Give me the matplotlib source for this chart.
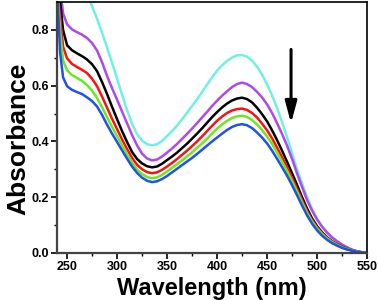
import numpy as np
import matplotlib
matplotlib.use("Agg")
import matplotlib.pyplot as plt

# wavelength grid (nm) shared by all spectra
wl = [240, 243, 246] + list(range(250, 551, 5))

# absorbance, top spectrum first
cyan = [1.6, 1.5, 1.42, 1.3, 1.2, 1.1, 1.0, 0.93, 0.885, 0.84, 0.79, 0.737, 0.682, 0.626, 0.568,
        0.512, 0.463, 0.426, 0.403, 0.39, 0.386, 0.39, 0.402, 0.419, 0.437, 0.457, 0.479, 0.503,
        0.527, 0.551, 0.577, 0.604, 0.63, 0.654, 0.673, 0.689, 0.701, 0.709, 0.71, 0.704, 0.69,
        0.668, 0.64, 0.605, 0.565, 0.52, 0.47, 0.415, 0.358, 0.3, 0.25, 0.2, 0.158, 0.123, 0.095,
        0.073, 0.055, 0.041, 0.029, 0.019, 0.011, 0.005, 0.002, 0.0]
purple = [1.0, 0.95, 0.86, 0.82, 0.802, 0.792, 0.783, 0.771, 0.753, 0.726, 0.684, 0.635, 0.591,
          0.55, 0.507, 0.465, 0.423, 0.386, 0.356, 0.339, 0.332, 0.335, 0.346, 0.36, 0.375, 0.391,
          0.409, 0.427, 0.446, 0.466, 0.486, 0.506, 0.527, 0.546, 0.564, 0.58, 0.595, 0.606, 0.611,
          0.606, 0.595, 0.578, 0.558, 0.533, 0.502, 0.466, 0.427, 0.385, 0.338, 0.285, 0.237, 0.19,
          0.152, 0.12, 0.094, 0.073, 0.056, 0.042, 0.03, 0.02, 0.012, 0.006, 0.002, 0.0]
black = [0.95, 0.9, 0.8, 0.745, 0.727, 0.716, 0.706, 0.694, 0.677, 0.652, 0.613, 0.57, 0.524,
         0.48, 0.437, 0.398, 0.362, 0.337, 0.321, 0.311, 0.307, 0.31, 0.32, 0.333, 0.346, 0.36,
         0.376, 0.392, 0.41, 0.428, 0.447, 0.467, 0.487, 0.505, 0.522, 0.536, 0.547, 0.554, 0.557,
         0.552, 0.54, 0.521, 0.498, 0.472, 0.44, 0.405, 0.367, 0.327, 0.286, 0.244, 0.2, 0.159,
         0.124, 0.096, 0.074, 0.056, 0.042, 0.031, 0.022, 0.015, 0.009, 0.005, 0.002, 0.0]
red = [0.95, 0.85, 0.74, 0.698, 0.678, 0.667, 0.657, 0.645, 0.625, 0.598, 0.561, 0.521, 0.481,
       0.444, 0.407, 0.373, 0.341, 0.316, 0.3, 0.29, 0.286, 0.289, 0.298, 0.31, 0.323, 0.337,
       0.352, 0.367, 0.383, 0.4, 0.418, 0.437, 0.456, 0.474, 0.489, 0.502, 0.511, 0.516, 0.518,
       0.513, 0.502, 0.486, 0.464, 0.44, 0.411, 0.378, 0.344, 0.308, 0.27, 0.23, 0.19, 0.151,
       0.118, 0.092, 0.071, 0.054, 0.041, 0.03, 0.021, 0.014, 0.009, 0.005, 0.002, 0.0]
green = [0.95, 0.8, 0.69, 0.655, 0.638, 0.628, 0.617, 0.602, 0.582, 0.556, 0.523, 0.487, 0.452,
         0.419, 0.386, 0.354, 0.324, 0.299, 0.283, 0.272, 0.268, 0.271, 0.28, 0.292, 0.305, 0.318,
         0.332, 0.346, 0.361, 0.377, 0.393, 0.41, 0.428, 0.446, 0.461, 0.474, 0.484, 0.49, 0.492,
         0.488, 0.477, 0.461, 0.441, 0.418, 0.391, 0.36, 0.328, 0.294, 0.258, 0.22, 0.181, 0.144,
         0.113, 0.088, 0.068, 0.052, 0.039, 0.029, 0.02, 0.014, 0.009, 0.005, 0.002, 0.0]
blue = [0.95, 0.72, 0.63, 0.598, 0.585, 0.577, 0.57, 0.558, 0.545, 0.525, 0.495, 0.46, 0.428,
        0.398, 0.368, 0.338, 0.31, 0.287, 0.27, 0.259, 0.254, 0.257, 0.265, 0.276, 0.289, 0.302,
        0.315, 0.328, 0.341, 0.355, 0.37, 0.385, 0.4, 0.414, 0.428, 0.441, 0.452, 0.459, 0.462,
        0.458, 0.448, 0.432, 0.414, 0.393, 0.367, 0.338, 0.308, 0.277, 0.243, 0.207, 0.17, 0.135,
        0.105, 0.081, 0.062, 0.047, 0.035, 0.026, 0.018, 0.012, 0.008, 0.004, 0.002, 0.0]

spectra = [cyan, purple, black, red, green, blue]
colors = ["#6ef2e0", "#b048f0", "#000000", "#ff1010", "#6ee81e", "#2050f0"]

plt.rcParams['font.family'] = ['Liberation Sans', 'DejaVu Sans']

fig = plt.figure(figsize=(3.78, 3.0), dpi=100)
ax = fig.add_axes([0.151, 0.157, 0.820, 0.836])

for vals, c in zip(spectra, colors):
    ax.plot(wl, vals, color=c, lw=1.8, solid_joinstyle='round')

# arrow showing the decrease
ax.annotate("", xy=(474, 0.465), xytext=(474, 0.73),
            arrowprops=dict(arrowstyle="-|>,head_width=0.35,head_length=1.3",
                            color="black", lw=2.2, shrinkA=0, shrinkB=0))

ax.set_xlim(240, 550)
ax.set_ylim(0, 0.9)
ax.set_xticks([250, 300, 350, 400, 450, 500, 550])
ax.set_xticks(np.arange(275, 550, 50), minor=True)
ax.set_yticks([0.0, 0.2, 0.4, 0.6, 0.8])
ax.set_yticks([0.1, 0.3, 0.5, 0.7], minor=True)
ax.set_yticklabels(["0.0", "0.2", "0.4", "0.6", "0.8"])

ax.tick_params(which='major', direction='out', length=4, width=1.2, labelsize=9, pad=2)
ax.tick_params(which='minor', direction='out', length=2.5, width=1.0)
for lab in ax.get_xticklabels() + ax.get_yticklabels():
    lab.set_fontweight('bold')

for s in ['left', 'bottom']:
    ax.spines[s].set_color('#444444')
    ax.spines[s].set_linewidth(1.6)
for s in ['top', 'right']:
    ax.spines[s].set_linewidth(1.2)

ax.set_xlabel("Wavelength (nm)", fontsize=17, fontweight='bold')
ax.xaxis.set_label_coords(0.5, -0.095)
ax.set_ylabel("Absorbance", fontsize=19, fontweight='bold')
ax.yaxis.set_label_coords(-0.085, 0.454)

fig.savefig("out.png", dpi=100)
